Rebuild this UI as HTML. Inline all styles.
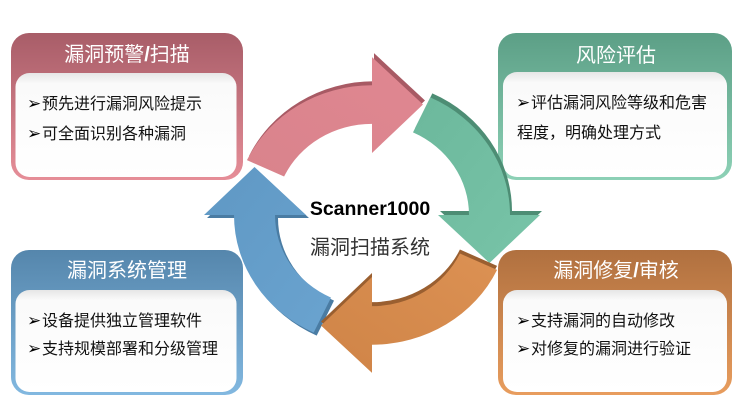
<!DOCTYPE html>
<html><head><meta charset="utf-8">
<style>
html,body{margin:0;padding:0;background:#fff;width:750px;height:406px;overflow:hidden}
svg{display:block}
.h{font-family:"Liberation Sans","Noto Sans CJK SC",sans-serif;font-size:20px;fill:#fff;text-anchor:middle}
.t{font-family:"Liberation Sans","Noto Sans CJK SC",sans-serif;font-size:16px;fill:#111}
.b{font-family:"DejaVu Sans",sans-serif;font-size:17px;fill:#000}
</style></head>
<body>
<svg width="750" height="406" viewBox="0 0 750 406" xmlns="http://www.w3.org/2000/svg">
<defs>
<linearGradient id="gR" x1="0" y1="0" x2="0" y2="1"><stop offset="0" stop-color="#a85d68"/><stop offset="1" stop-color="#e68e98"/></linearGradient>
<linearGradient id="gG" x1="0" y1="0" x2="0" y2="1"><stop offset="0" stop-color="#5c9f86"/><stop offset="1" stop-color="#8dd1b6"/></linearGradient>
<linearGradient id="gB" x1="0" y1="0" x2="0" y2="1"><stop offset="0" stop-color="#5586ac"/><stop offset="1" stop-color="#82b8e0"/></linearGradient>
<linearGradient id="gO" x1="0" y1="0" x2="0" y2="1"><stop offset="0" stop-color="#b0703f"/><stop offset="1" stop-color="#e89d5e"/></linearGradient>
<linearGradient id="gW" x1="0" y1="0" x2="0" y2="1"><stop offset="0" stop-color="#e6e6e6"/><stop offset="0.1" stop-color="#fafafa"/><stop offset="1" stop-color="#ffffff"/></linearGradient>
<linearGradient id="aR" x1="0" y1="0" x2="1" y2="1"><stop offset="0" stop-color="#d9838c"/><stop offset="1" stop-color="#e08791"/></linearGradient>
<linearGradient id="aG" x1="0" y1="0" x2="1" y2="1"><stop offset="0" stop-color="#6cb89c"/><stop offset="1" stop-color="#78c4a8"/></linearGradient>
<linearGradient id="aO" x1="0" y1="0" x2="1" y2="1"><stop offset="0" stop-color="#dc9153"/><stop offset="1" stop-color="#cf8447"/></linearGradient>
<linearGradient id="aB" x1="0" y1="0" x2="1" y2="1"><stop offset="0" stop-color="#6aa3cf"/><stop offset="1" stop-color="#5f98c4"/></linearGradient>
<path id="arr" d="M58.32,-125.07 A138,138 0 0 1 138,0 L168,0 L117.5,51 L66,0 L97,0 A97,97 0 0 0 40.99,-87.91 Z"/>
</defs>

<!-- Box 1 red -->
<rect x="11" y="33" width="232" height="147" rx="18" fill="url(#gR)"/>
<rect x="15.5" y="73" width="221" height="104" rx="14" fill="url(#gW)"/>
<text class="h" x="127" y="61">漏洞预警<tspan font-weight="bold">/</tspan>扫描</text>
<text class="b" x="27" y="109">➢</text><text class="t" x="42" y="109">预先进行漏洞风险提示</text>
<text class="b" x="27" y="139">➢</text><text class="t" x="42" y="139">可全面识别各种漏洞</text>

<!-- Box 2 green -->
<rect x="498" y="33" width="234" height="147" rx="18" fill="url(#gG)"/>
<rect x="503" y="72" width="224" height="105" rx="14" fill="url(#gW)"/>
<text class="h" x="616" y="62">风险评估</text>
<text class="b" x="516" y="108">➢</text><text class="t" x="531" y="108">评估漏洞风险等级和危害</text>
<text class="t" x="517" y="138">程度，明确处理方式</text>

<!-- Box 3 blue -->
<rect x="11" y="250" width="232" height="145" rx="18" fill="url(#gB)"/>
<rect x="15.5" y="290" width="221" height="102" rx="14" fill="url(#gW)"/>
<text class="h" x="127" y="277">漏洞系统管理</text>
<text class="b" x="27" y="326">➢</text><text class="t" x="42" y="326">设备提供独立管理软件</text>
<text class="b" x="27" y="354">➢</text><text class="t" x="42" y="354">支持规模部署和分级管理</text>

<!-- Box 4 orange -->
<rect x="498" y="250" width="234" height="145" rx="18" fill="url(#gO)"/>
<rect x="503" y="290" width="224" height="102" rx="14" fill="url(#gW)"/>
<text class="h" x="616" y="277">漏洞修复<tspan font-weight="bold">/</tspan>审核</text>
<text class="b" x="516" y="326">➢</text><text class="t" x="531" y="326">支持漏洞的自动修改</text>
<text class="b" x="516" y="354">➢</text><text class="t" x="531" y="354">对修复的漏洞进行验证</text>

<!-- Arrows: blue -->
<g transform="translate(375,218) scale(1,0.94) rotate(180)"><use href="#arr" fill="#4a7ca3"/></g>
<g transform="translate(372,215) scale(1,0.94) rotate(180)"><use href="#arr" fill="url(#aB)"/></g>
<!-- red -->
<g transform="translate(374,211) scale(1,0.94) rotate(-90)"><use href="#arr" fill="#a85a64"/></g>
<g transform="translate(372,215) scale(1,0.94) rotate(-90)"><use href="#arr" fill="url(#aR)"/></g>
<!-- green -->
<g transform="translate(374,211) scale(1,0.94) rotate(0)"><use href="#arr" fill="#4d8d74"/></g>
<g transform="translate(372,215) scale(1,0.94) rotate(0)"><use href="#arr" fill="url(#aG)"/></g>
<!-- orange -->
<g transform="translate(372,211) scale(1,0.94) rotate(90)"><use href="#arr" fill="#9a5f30"/></g>
<g transform="translate(372,215) scale(1,0.94) rotate(90)"><use href="#arr" fill="url(#aO)"/></g>

<!-- Center text -->
<text x="370" y="215" text-anchor="middle" font-family="Liberation Sans, Arial, sans-serif" font-weight="bold" font-size="19.5" fill="#000">Scanner1000</text>
<text x="370" y="254" text-anchor="middle" font-family="Liberation Sans, Noto Sans CJK SC, sans-serif" font-size="20" fill="#333">漏洞扫描系统</text>
</svg>
</body></html>
